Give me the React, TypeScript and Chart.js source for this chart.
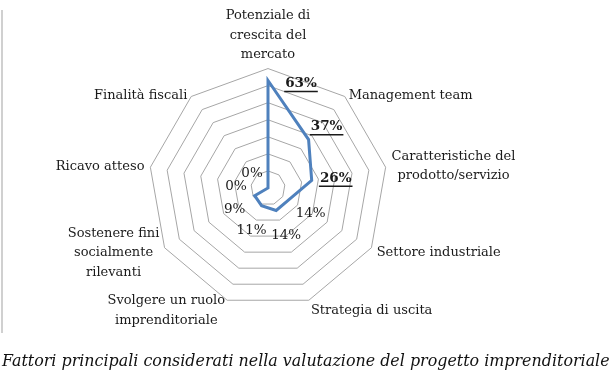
import React, { useEffect, useRef } from "react";
import { Chart, registerables } from "chart.js";

Chart.register(...registerables);

const categories: (string | string[])[] = [
  ["Potenziale di", "crescita del", "mercato"],
  "Management team",
  ["Caratteristiche del", "prodotto/servizio"],
  "Settore industriale",
  "Strategia di uscita",
  ["Svolgere un ruolo", "imprenditoriale"],
  ["Sostenere fini", "socialmente", "rilevanti"],
  "Ricavo atteso",
  "Finalità fiscali",
];
const values = [63, 37, 26, 14, 14, 11, 9, 0, 0];
const valueLabels = ["63%", "37%", "26%", "14%", "14%", "11%", "9%", "0%", "0%"];
const highlighted = [true, true, true, false, false, false, false, false, false];
const scaleMax = 70;
const scaleStep = 10;
const caption = "Fattori principali considerati nella valutazione del progetto imprenditoriale";

const FONT = "'DejaVu Serif', serif";
const TEXT = "#1a1a1a";
// label offsets (style) relative to each point
const labelOffsets = [
  [33, 3], [18, -13], [24, -2], [22, 14], [10, 25], [-10, 25], [-20, 14], [-32, -2], [-16, -15],
];

const valueLabelPlugin = {
  id: "valueLabels",
  afterDatasetsDraw(chart: any) {
    const ctx = chart.ctx;
    const meta = chart.getDatasetMeta(0);
    ctx.save();
    ctx.textAlign = "center";
    ctx.textBaseline = "middle";
    ctx.fillStyle = TEXT;
    meta.data.forEach((pt: any, i: number) => {
      const bold = highlighted[i];
      ctx.font = `${bold ? "bold " : ""}13.5px ${FONT}`;
      const x = pt.x + labelOffsets[i][0];
      const y = pt.y + labelOffsets[i][1];
      ctx.fillText(valueLabels[i], x, y);
      if (bold) {
        const w = ctx.measureText(valueLabels[i]).width;
        ctx.strokeStyle = TEXT;
        ctx.lineWidth = 1.5;
        ctx.beginPath();
        ctx.moveTo(x - w / 2 - 1, y + 8);
        ctx.lineTo(x + w / 2 + 1, y + 8);
        ctx.stroke();
      }
    });
    ctx.restore();
  },
};

const excelPointLabels = {
  id: "excelPointLabels",
  afterDraw(chart: any) {
    const scale = chart.scales.r;
    const ctx = chart.ctx;
    const lh = 19.5;
    const n = categories.length;
    ctx.save();
    ctx.font = `13px ${FONT}`;
    ctx.fillStyle = TEXT;
    ctx.textBaseline = "middle";
    for (let i = 0; i < n; i++) {
      const lab = categories[i];
      const lines = Array.isArray(lab) ? lab : [lab];
      const v = scale.getPointPosition(i, scale.drawingArea);
      const theta = (i / n) * Math.PI * 2;
      const s = Math.sin(theta);
      const c = Math.cos(theta);
      const widths = lines.map((l) => ctx.measureText(l).width);
      const bw = Math.max(...widths);
      const total = lines.length * lh;
      let midY: number;
      if (i === 0) {
        midY = v.y - 4 - total / 2;
      } else {
        midY = v.y - 1 + (c < 0 ? -c * 12 : 0);
      }
      let centerX: number;
      if (Math.abs(s) < 0.05) centerX = v.x;
      else if (s > 0) centerX = v.x + 6 * s + bw / 2;
      else centerX = v.x + 6 * s - bw / 2;
      ctx.textAlign = "center";
      lines.forEach((ln, j) => {
        ctx.fillText(ln, centerX, midY - total / 2 + lh / 2 + j * lh);
      });
    }
    ctx.restore();
  },
};

export default function App() {
  const ref = useRef<HTMLCanvasElement>(null);
  useEffect(() => {
    document.body.style.margin = "0";
    const chart = new Chart(ref.current!, {
      type: "radar",
      data: {
        labels: categories,
        datasets: [
          {
            data: values,
            borderColor: "#4F81BD",
            borderWidth: 3,
            backgroundColor: "rgba(0,0,0,0)",
            fill: false,
            pointRadius: 0,
            pointHoverRadius: 0,
            tension: 0,
          },
        ],
      },
      options: {
        animation: false,
        responsive: false,
        layout: { padding: { left: 0, right: 51, top: 0, bottom: 0 } },
        plugins: { legend: { display: false }, tooltip: { enabled: false } },
        scales: {
          r: {
            min: 0,
            max: scaleMax,
            ticks: { display: false, stepSize: scaleStep },
            angleLines: { display: false },
            grid: { color: "#a6a6a6", lineWidth: 1 },
            pointLabels: {
              color: "rgba(0,0,0,0)",
              font: { family: FONT, size: 13, lineHeight: 1.45 },
              padding: 4,
            },
          },
        },
      },
      plugins: [valueLabelPlugin, excelPointLabels],
    });
    return () => chart.destroy();
  }, []);
  return (
    <div style={{ position: "relative", width: 613, height: 378, background: "#fff", overflow: "hidden" }}>
      <div style={{ position: "absolute", left: 1, top: 10, width: 2, height: 323, background: "#d0d0d0" }} />
      <canvas ref={ref} width={613} height={360} style={{ position: "absolute", left: 0, top: -5 }} />
      <div
        style={{
          position: "absolute",
          left: 2,
          top: 351,
          fontFamily: FONT,
          fontStyle: "italic",
          fontSize: 15.9,
          color: "#111",
          whiteSpace: "nowrap",
        }}
      >
        {caption}
      </div>
    </div>
  );
}
